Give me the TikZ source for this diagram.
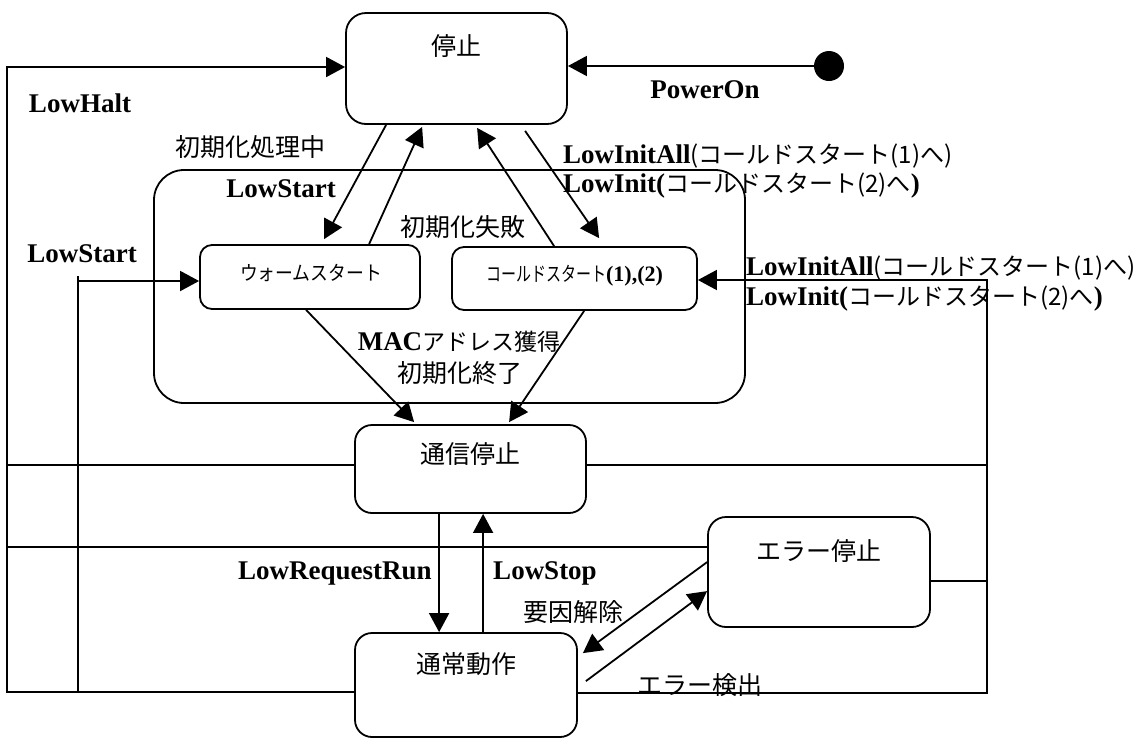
\documentclass[tikz,border=0pt]{standalone}
\usepackage{fontspec}
\usepackage{graphicx}
\setmainfont{Liberation Serif}
\newfontfamily\jpf{Noto Sans CJK JP}
\usetikzlibrary{arrows.meta}

% text styles: bold serif event names, plain gothic Japanese
\newcommand\evfont{\bfseries\fontsize{27}{30}\selectfont}
\newcommand\jpfont{\jpf\mdseries\fontsize{25}{30}\selectfont}
\newcommand\jpsmall{\jpf\mdseries\fontsize{24}{28}\selectfont}

\tikzset{
  wire/.style={line width=1.8pt},
  trans/.style={wire, -{Triangle[length=19pt,width=20pt]}},
  stbox/.style={draw, line width=1.8pt, rounded corners=17pt, inner sep=0pt},
  evlabel/.style={font=\evfont, inner sep=0pt, anchor=base},
  jplabel/.style={font=\jpfont, inner sep=0pt},
}

\begin{document}
\begin{tikzpicture}[x=1pt,y=-1pt]
\useasboundingbox (0,0) rectangle (1139,737);

% composite state holding the two start-up sub-states
\node[stbox, rounded corners=30pt, minimum width=591pt, minimum height=233pt] (comp) at (449.5,286.5) {};

% states
\node[stbox, rounded corners=20pt, minimum width=221pt, minimum height=111pt] (halt) at (456.5,68.5) {};
\node[stbox, rounded corners=12pt, minimum width=220pt, minimum height=64pt] (warm) at (310,277) {};
\node[stbox, rounded corners=12pt, minimum width=245pt, minimum height=63pt] (cold) at (574.5,278.5) {};
\node[stbox, minimum width=231pt, minimum height=88pt] (comm) at (470.5,469) {};
\node[stbox, minimum width=222pt, minimum height=104pt] (norm) at (466,685) {};
\node[stbox, rounded corners=18pt, minimum width=222pt, minimum height=110pt] (err) at (819,572) {};
\node[circle, fill, minimum size=30pt, inner sep=0pt] (init) at (829,66) {};

% state names
\node[jplabel] (halt-name) at ([yshift=-34pt]halt.north) {停止};
\node[jplabel] (comm-name) at ([yshift=-30pt]comm.north) {通信停止};
\node[jplabel] (norm-name) at ([yshift=-32pt]norm.north) {通常動作};
\node[jplabel] (err-name) at ([yshift=-35pt]err.north) {エラー停止};
\node[inner sep=0pt, font=\jpf\mdseries\fontsize{20}{24}\selectfont] (warm-name) at ([xshift=1pt,yshift=4pt]warm.center) {\scalebox{0.89}[1]{ウォームスタート}};
\node[inner sep=0pt, anchor=base] (cold-name) at ([yshift=-2.5pt]cold.center)
  {\scalebox{0.75}[1]{\jpf\mdseries\fontsize{20}{24}\selectfont コールドスタート}{\bfseries\fontsize{22}{24}\selectfont (1),(2)}};

% rails for the transitions that leave from several states
\coordinate (lhTop) at (7,67);
\coordinate (lhBot) at (7,692);
\coordinate (lsTop) at (78,276);
\coordinate (lsBot) at (78,692);
\coordinate (lsArr) at (78,281);
\coordinate (riTop) at (987,280);
\coordinate (riBot) at (987,693);
\coordinate (yComm) at (0,465);
\coordinate (yErr) at (0,547);
\coordinate (yErrR) at (0,581);

% LowHalt
\draw[trans] (norm.west |- lhBot) -- (lhBot) -- (lhTop) -- (lhTop -| halt.west);
\draw[wire] (comm.west |- yComm) -- (lhTop |- yComm);
\draw[wire] (err.west |- yErr) -- (lhTop |- yErr);
% LowStart
\draw[wire] (lsBot) -- (lsTop);
\draw[trans] (lsArr) -- (lsArr -| warm.west);
% LowInitAll / LowInit
\draw[trans] (norm.east |- riBot) -- (riBot) -- (riTop) -- (riTop -| cold.east);
\draw[wire] (comm.east |- yComm) -- (riTop |- yComm);
\draw[wire] (err.east |- yErrR) -- (riTop |- yErrR);

% PowerOn
\draw[trans] (init) -- (init -| halt.east);

% start-up transitions
\draw[trans] ([xshift=41pt]halt.south west) -- ([xshift=125pt,yshift=5pt]warm.north west);
\draw[trans] ([xshift=170pt]warm.north west) -- ([xshift=77pt,yshift=-2pt]halt.south west);
\draw[trans] ([xshift=103pt]cold.north west) -- ([xshift=132pt,yshift=-3pt]halt.south west);
\draw[trans] ([xshift=180pt,yshift=-6pt]halt.south west) -- ([xshift=148pt,yshift=8pt]cold.north west);
\draw[trans] ([xshift=107pt]warm.south west) -- ([xshift=60pt,yshift=2pt]comm.north west);
\draw[trans] ([xshift=133pt]cold.south west) -- ([xshift=155pt,yshift=2pt]comm.north west);

% running / stopped
\draw[trans] ([xshift=85pt]comm.south west) -- ([xshift=85pt]norm.north west);
\draw[trans] ([xshift=129pt]norm.north west) -- ([xshift=129pt]comm.south west);

% error handling
\draw[trans] ([yshift=-46pt]err.north west) -- ([xshift=5pt,yshift=-21pt]norm.north east);
\draw[trans] ([xshift=8pt,yshift=-49pt]norm.north east) -- ([yshift=-75pt]err.north west);

% transition labels
\node[evlabel] (lowhalt) at (80,112) {LowHalt};
\node[evlabel] (poweron) at (705,98) {PowerOn};
\node[jplabel] (initing) at (250,147) {初期化処理中};
\node[evlabel] (lowstart-in) at (281,197) {LowStart};
\node[jplabel] (initfail) at (463,227) {初期化失敗};
\node[evlabel, anchor=base west] (initall-top) at (563,163) {LowInitAll{\jpsmall (コールドスタート(1)へ)}};
\node[evlabel, anchor=base west] (init-top) at (563,192) {LowInit({\jpsmall コールドスタート(2)へ})};
\node[evlabel] (lowstart-out) at (82,262) {LowStart};
\node[evlabel, anchor=base west] (initall-right) at (746,275) {LowInitAll{\jpsmall (コールドスタート(1)へ)}};
\node[evlabel, anchor=base west] (init-right) at (746,305) {LowInit({\jpsmall コールドスタート(2)へ})};
\node[evlabel] (macget) at (459,350) {MAC{\jpf\mdseries\fontsize{23}{28}\selectfont アドレス獲得}};
\node[jplabel] (initdone) at (459.5,373) {初期化終了};
\node[evlabel] (reqrun) at (335,579) {LowRequestRun};
\node[evlabel] (lowstop) at (545,579) {LowStop};
\node[jplabel] (recover) at (573,612) {要因解除};
\node[jplabel] (errdet) at (700,685) {エラー検出};
\end{tikzpicture}
\end{document}
